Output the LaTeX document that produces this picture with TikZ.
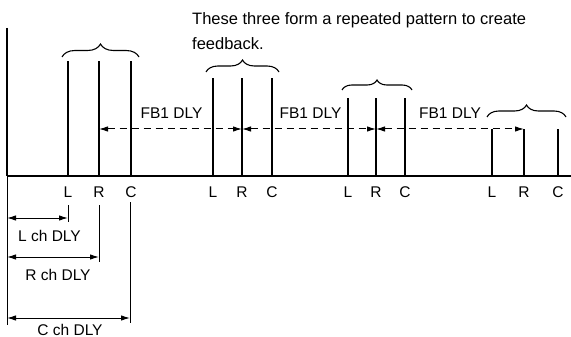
\documentclass[tikz,border=0pt]{standalone}
\usepackage{fontspec}
\setmainfont{Liberation Sans}
\usetikzlibrary{arrows.meta,decorations.pathreplacing}
\begin{document}
\begin{tikzpicture}[x=1pt,y=-1pt,
  pulse/.style={line width=1.5pt},
  axisline/.style={line width=1.7pt},
  dimline/.style={line width=1pt},
  fbarrow/.style={line width=1pt, dash pattern=on 7pt off 5pt,
    {Latex[length=9pt,width=5.5pt]}-{Latex[length=9pt,width=5.5pt]}},
  dimarrow/.style={line width=1pt,
    {Latex[length=9pt,width=5.5pt]}-{Latex[length=9pt,width=5.5pt]}},
  grp/.style={line width=1.1pt, decorate, decoration={brace, amplitude=#1}},
  lbl/.style={font=\fontsize{15.5}{18}\selectfont, inner sep=0pt},
  toptext/.style={font=\fontsize{16.5}{20}\selectfont, inner sep=0pt, anchor=base west},
]
\useasboundingbox (0,0) rectangle (571,337);

% axes
\coordinate (O) at (7,176);
\coordinate (Otop) at (7,28);
\coordinate (Obot) at (7,325);
\coordinate (E) at (571,176);
\draw[axisline] (Otop) -- (O);
\draw[dimline] (O) -- (Obot);
\draw[axisline] (O) -- (E);

% pulses
\foreach \n/\l/\x/\t in {L1/L/68/61, R1/R/99/61, C1/C/131/61,
                         L2/L/213/78, R2/R/242/78, C2/C/272/78,
                         L3/L/348/98, R3/R/376/98, C3/C/405/98,
                         L4/L/492/129, R4/R/524/129, C4/C/558/129}{
  \coordinate (\n t) at (\x,\t);
  \coordinate (\n b) at (\x,176);
  \draw[pulse] (\n b) -- (\n t);
  \node[lbl] (\n lab) at (\x,192) {\l};
}

% braces
\coordinate (B1a) at (62,57);  \coordinate (B1b) at (139,57);
\coordinate (B2a) at (206,72); \coordinate (B2b) at (279,72);
\coordinate (B3a) at (342,90); \coordinate (B3b) at (412,90);
\coordinate (B4a) at (487,117); \coordinate (B4b) at (566,117);
\draw[grp=13pt] (B1a) -- (B1b);
\draw[grp=12pt] (B2a) -- (B2b);
\draw[grp=10pt] (B3a) -- (B3b);
\draw[grp=12pt] (B4a) -- (B4b);

% feedback arrows
\coordinate (F1) at (99,129);
\coordinate (F2) at (242,129);
\coordinate (F3) at (376,129);
\coordinate (F4) at (524,129);
\draw[fbarrow] (F1) -- (F2);
\draw[fbarrow] (F2) -- (F3);
\draw[fbarrow] (F3) -- (F4);
\node[lbl] (fb1) at (171.5,113) {FB1 DLY};
\node[lbl] (fb2) at (310.5,113) {FB1 DLY};
\node[lbl] (fb3) at (450,113) {FB1 DLY};

% delay dimensions
\coordinate (Lt) at (68,205);  \coordinate (Lb) at (68,222);
\coordinate (Rt) at (99,205);  \coordinate (Rb) at (99,262);
\coordinate (Ct) at (130,202); \coordinate (Cb) at (130,323);
\draw[dimline] (Lt) -- (Lb);
\draw[dimline] (Rt) -- (Rb);
\draw[dimline] (Ct) -- (Cb);
\coordinate (DL0) at (7,218); \coordinate (DL1) at (68,218);
\coordinate (DR0) at (7,257); \coordinate (DR1) at (99,257);
\coordinate (DC0) at (7,318); \coordinate (DC1) at (130,318);
\draw[dimarrow] (DL0) -- (DL1);
\draw[dimarrow] (DR0) -- (DR1);
\draw[dimarrow] (DC0) -- (DC1);
\node[lbl] (lch) at (49.5,235.5) {L ch DLY};
\node[lbl] (rch) at (58,275) {R ch DLY};
\node[lbl, anchor=base] (cch) at (70,335) {C ch DLY};

% caption
\node[toptext] (cap1) at (192,25) {These three form a repeated pattern to create};
\node[toptext] (cap2) at (192,50) {feedback.};
\end{tikzpicture}
\end{document}
